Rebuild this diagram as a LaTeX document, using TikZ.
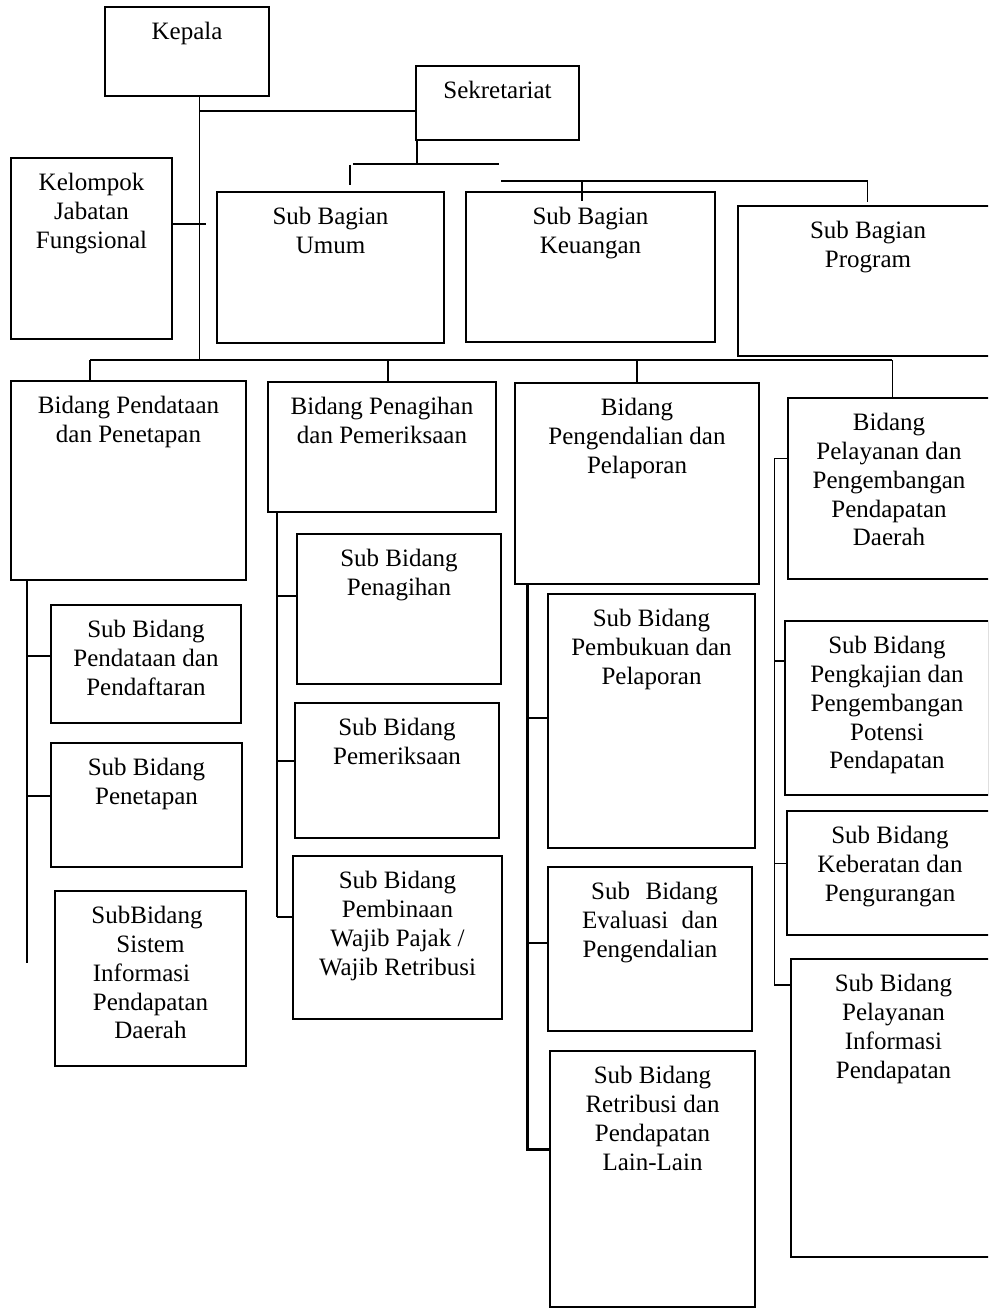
\documentclass[tikz,border=0pt]{standalone}
\usepackage{fontspec}
\setmainfont{Liberation Serif}
\newcommand\boxfont{\fontsize{25}{28.9}\selectfont}
\tikzset{
  orgbox/.style={draw=black, line width=1.7pt, inner sep=0pt, outer sep=0pt, anchor=north west},
  orgtxt/.style={anchor=base, inner sep=0pt, font=\boxfont},
  conn/.style={draw=black, line width=1.6pt},
  thickconn/.style={draw=black, line width=2.8pt}
}
\newcommand\mkbox[6]{%
  \node[orgbox, minimum width={(#4-#2)*1pt}, minimum height={(#5-#3)*1pt}] (#1) at (#2,#3) {};
  \node[orgtxt] (#1-t) at ([yshift=-32.3pt]#1.north) {\begin{tabular}[t]{@{}c@{}}#6\end{tabular}};
}
\begin{document}
\begin{tikzpicture}[x=1pt, y=-1pt]
\useasboundingbox (0,0) rectangle (988,1309);
\clip (0,0) rectangle (988,1309);
\fill[white] (0,0) rectangle (988,1309);

\mkbox{kepala}{105}{7}{269}{96}{Kepala}
\mkbox{sekre}{416}{66}{579}{140}{Sekretariat}
\mkbox{kelompok}{11}{158}{172}{339}{Kelompok\\Jabatan\\Fungsional}
\mkbox{umum}{217}{192}{444}{343}{Sub Bagian\\Umum}
\mkbox{keuangan}{466}{192}{715}{342}{Sub Bagian\\Keuangan}
\mkbox{program}{738}{206}{998}{356}{Sub Bagian\\Program}
\mkbox{bpendataan}{11}{381}{246}{580}{Bidang Pendataan\\dan Penetapan}
\mkbox{bpenagihan}{268}{382}{496}{512}{Bidang Penagihan\\dan Pemeriksaan}
\mkbox{bpengendalian}{515}{383}{759}{584}{Bidang\\Pengendalian dan\\Pelaporan}
\mkbox{bpelayanan}{788}{398}{990}{579}{Bidang\\Pelayanan dan\\Pengembangan\\Pendapatan\\Daerah}
\mkbox{sPendaftaran}{51}{605}{241}{723}{Sub Bidang\\Pendataan dan\\Pendaftaran}
\mkbox{sPenetapan}{51}{743}{242}{867}{Sub Bidang\\Penetapan}
\mkbox{sSistem}{55}{891}{246}{1066}{\hbox{SubBidang\kern7pt}\\Sistem\\\rlap{Informasi}\phantom{Pendapatan}\\Pendapatan\\Daerah}
\mkbox{sPenagihan}{297}{534}{501}{684}{Sub Bidang\\Penagihan}
\mkbox{sPemeriksaan}{295}{703}{499}{838}{Sub Bidang\\Pemeriksaan}
\mkbox{sPembinaan}{293}{856}{502}{1019}{Sub Bidang\\Pembinaan\\Wajib Pajak /\\Wajib Retribusi}
\mkbox{sPembukuan}{548}{594}{755}{848}{Sub Bidang\\Pembukuan dan\\Pelaporan}
\mkbox{sEvaluasi}{548}{867}{752}{1031}{\hbox to 135.6pt{\hskip9pt Sub\hfill Bidang}\\\hbox to 135.6pt{Evaluasi\hfill dan}\\Pengendalian}
\mkbox{sRetribusi}{550}{1051}{755}{1307}{Sub Bidang\\Retribusi dan\\Pendapatan\\Lain-Lain}
\mkbox{sPengkajian}{785}{621}{989}{795}{Sub Bidang\\Pengkajian dan\\Pengembangan\\Potensi\\Pendapatan}
\mkbox{sKeberatan}{787}{811}{993}{935}{Sub Bidang\\Keberatan dan\\Pengurangan}
\mkbox{sInformasi}{791}{959}{996}{1257}{Sub Bidang\\Pelayanan\\Informasi\\Pendapatan}

% trunk from Kepala
\coordinate (trunk) at (199.4,360);
\draw[conn] (kepala.south -| trunk) -- (trunk);
\draw[conn] (trunk |- 0,111) -- (sekre.west |- 0,111);
\coordinate (kelEnd) at (206,223.7);
\draw[conn] (kelompok.east |- kelEnd) -- (kelEnd);

% Sekretariat branches
\coordinate (sekJ) at (416.8,164);
\draw[conn] (sekre.south -| sekJ) -- (sekJ);
\coordinate (hA1) at (352.8,164);
\coordinate (hA2) at (499.4,164);
\draw[conn] (hA1) -- (hA2);
\coordinate (umTop) at (350,185);
\draw[conn] (umTop |- 0,164.5) -- (umTop);
\coordinate (hB1) at (501,181);
\coordinate (hB2) at (867.6,181);
\draw[conn] (hB1) -- (hB2);
\coordinate (keTop) at (582,201);
\draw[conn] (hB1 -| keTop) -- (keTop);
\coordinate (prTop) at (867.6,201.7);
\draw[conn] (hB2) -- (prTop);

% bidang bus
\coordinate (busL) at (90,360);
\coordinate (busR) at (892.3,360);
\draw[conn] (busL) -- (busR);
\draw[conn] (busL) -- (bpendataan.north -| busL);
\draw[conn] (388,360) -- (bpenagihan.north -| 388,0);
\draw[conn] (636.7,360) -- (bpengendalian.north -| 636.7,0);
\draw[conn] (busR) -- (bpelayanan.north -| busR);

% column 1
\coordinate (c1) at (26.7,962.7);
\draw[conn] (bpendataan.south -| c1) -- (c1);
\draw[conn] (c1 |- 0,655.7) -- (sPendaftaran.west |- 0,655.7);
\draw[conn] (c1 |- 0,796) -- (sPenetapan.west |- 0,796);

% column 2
\coordinate (c2) at (276.7,917);
\draw[conn] (bpenagihan.south -| c2) -- (c2);
\draw[conn] (c2 |- 0,596) -- (sPenagihan.west |- 0,596);
\draw[conn] (c2 |- 0,760.7) -- (sPemeriksaan.west |- 0,760.7);
\draw[conn] (c2) -- (sPembinaan.west |- c2);

% column 3
\coordinate (c3) at (527.3,1149.3);
\draw[thickconn] (bpengendalian.south -| c3) -- (c3) -- (sRetribusi.west |- c3);
\draw[conn] (c3 |- 0,717.7) -- (sPembukuan.west |- 0,717.7);
\draw[conn] (c3 |- 0,942.7) -- (sEvaluasi.west |- 0,942.7);

% column 4
\coordinate (c4) at (774.3,985);
\draw[conn] (bpelayanan.west |- 0,458.3) -| (c4);
\draw[conn] (c4 |- 0,660.7) -- (sPengkajian.west |- 0,660.7);
\draw[conn] (c4 |- 0,863.3) -- (sKeberatan.west |- 0,863.3);
\draw[conn] (c4) -- (sInformasi.west |- c4);
\end{tikzpicture}
\end{document}
